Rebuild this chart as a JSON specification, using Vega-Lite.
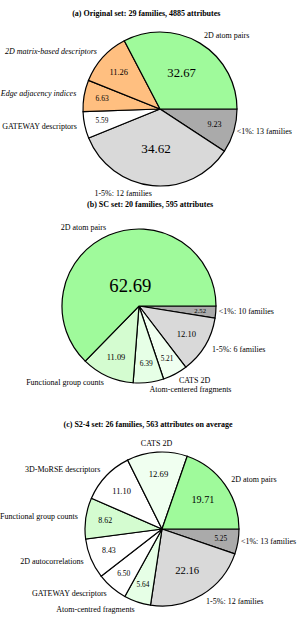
{
  "$schema": "https://vega.github.io/schema/vega-lite/v6.json",
  "padding": {"left": 0, "top": 9, "right": 0, "bottom": 0},
  "background": "white",
  "bounds": "flush",
  "spacing": 34,
  "config": {
    "view": {"stroke": null},
    "font": "Liberation Serif",
    "title": {"font": "Liberation Serif", "fontSize": 8, "fontWeight": "bold", "color": "black", "frame": "bounds", "anchor": "middle"},
    "text": {"font": "Liberation Serif", "fill": "black", "color": "black"}
  },
  "resolve": {"scale": {"theta": "independent"}},
  "data": {"values": [
    {"panel": "a", "i": 0, "label": "<1%: 13 families", "value": 9.23, "kind": "under1"},
    {"panel": "a", "i": 1, "label": "1-5%: 12 families", "value": 34.62, "kind": "1to5"},
    {"panel": "a", "i": 2, "label": "GATEWAY descriptors", "value": 5.59, "kind": "other"},
    {"panel": "a", "i": 3, "label": "Edge adjacency indices", "value": 6.63, "kind": "matrix"},
    {"panel": "a", "i": 4, "label": "2D matrix-based descriptors", "value": 11.26, "kind": "matrix"},
    {"panel": "a", "i": 5, "label": "2D atom pairs", "value": 32.67, "kind": "atompairs"},
    {"panel": "b", "i": 0, "label": "<1%: 10 families", "value": 2.52, "kind": "under1"},
    {"panel": "b", "i": 1, "label": "1-5%: 6 families", "value": 12.10, "kind": "1to5"},
    {"panel": "b", "i": 2, "label": "CATS 2D", "value": 5.21, "kind": "cats"},
    {"panel": "b", "i": 3, "label": "Atom-centered fragments", "value": 6.39, "kind": "fragments"},
    {"panel": "b", "i": 4, "label": "Functional group counts", "value": 11.09, "kind": "functional"},
    {"panel": "b", "i": 5, "label": "2D atom pairs", "value": 62.69, "kind": "atompairs"},
    {"panel": "c", "i": 0, "label": "<1%: 13 families", "value": 5.25, "kind": "under1"},
    {"panel": "c", "i": 1, "label": "1-5%: 12 families", "value": 22.16, "kind": "1to5"},
    {"panel": "c", "i": 2, "label": "Atom-centred fragments", "value": 5.64, "kind": "fragments"},
    {"panel": "c", "i": 3, "label": "GATEWAY descriptors", "value": 6.50, "kind": "other"},
    {"panel": "c", "i": 4, "label": "2D autocorrelations", "value": 8.43, "kind": "other"},
    {"panel": "c", "i": 5, "label": "Functional group counts", "value": 8.62, "kind": "functional"},
    {"panel": "c", "i": 6, "label": "3D-MoRSE descriptors", "value": 11.10, "kind": "other"},
    {"panel": "c", "i": 7, "label": "CATS 2D", "value": 12.69, "kind": "cats"},
    {"panel": "c", "i": 8, "label": "2D atom pairs", "value": 19.71, "kind": "atompairs"}
  ]},
  "vconcat": [
    {
      "title": {"text": "(a) Original set: 29 families, 4885 attributes", "offset": 12},
      "width": 260, "height": 140,
      "transform": [{"filter": "datum.panel == 'a'"}],
      "encoding": {
        "theta": {"field": "value", "type": "quantitative", "stack": true, "scale": {"range": [1.5707963, 7.8539816]}},
        "order": {"field": "i", "type": "quantitative"}
      },
      "layer": [
        {"mark": {"type": "arc", "outerRadius": 77, "stroke": "black", "strokeWidth": 1.2},
         "encoding": {"color": {"field": "kind", "type": "nominal", "legend": null,
           "scale": {"domain": ["atompairs", "matrix", "1to5", "under1", "functional", "fragments", "cats", "other"],
                     "range": ["#9ffa9b", "#ffbf80", "#d9d9d9", "#aaaaaa", "#d4fcd0", "#e6ffe6", "#f0fff0", "#ffffff"]}}}},
        {"mark": {"type": "text", "baseline": "middle", "align": "center", "fill": "black"},
         "encoding": {
           "text": {"field": "value", "type": "quantitative", "format": ".2f"},
           "radius": {"field": "value", "type": "quantitative", "scale": {"type": "linear", "zero": false, "domain": [0, 63], "range": [63, 22]}},
           "size": {"field": "value", "type": "quantitative", "legend": null, "scale": {"type": "linear", "zero": false, "domain": [0, 63], "range": [6.2, 18.8]}}
         }},
        {"mark": {"type": "text", "baseline": "middle", "fontSize": 8, "fill": "black",
                  "radius": {"expr": "indexof(datum.label, '<1%') == 0 ? 80 : 85"},
                  "align": {"expr": "cos(PI*(datum.value_start+datum.value_end)/100) > 0.08 ? 'left' : (cos(PI*(datum.value_start+datum.value_end)/100) < -0.08 ? 'right' : 'center')"},
                  "fontStyle": {"expr": "indexof(['2D matrix-based descriptors','Edge adjacency indices'], datum.label) >= 0 ? 'italic' : 'normal'"}},
         "encoding": {"text": {"field": "label", "type": "nominal"}}}
      ]
    },
    {
      "title": {"text": "(b) SC set: 20 families, 595 attributes", "offset": 4},
      "width": 218, "height": 186,
      "transform": [{"filter": "datum.panel == 'b'"}],
      "encoding": {
        "theta": {"field": "value", "type": "quantitative", "stack": true, "scale": {"range": [1.5707963, 7.8539816]}},
        "order": {"field": "i", "type": "quantitative"}
      },
      "layer": [
        {"mark": {"type": "arc", "outerRadius": 77, "stroke": "black", "strokeWidth": 1.2},
         "encoding": {"color": {"field": "kind", "type": "nominal", "legend": null}}},
        {"mark": {"type": "text", "baseline": "middle", "align": "center", "fill": "black"},
         "encoding": {
           "text": {"field": "value", "type": "quantitative", "format": ".2f"},
           "radius": {"field": "value", "type": "quantitative", "scale": {"type": "linear", "zero": false, "domain": [0, 63], "range": [63, 22]}},
           "size": {"field": "value", "type": "quantitative", "legend": null, "scale": {"type": "linear", "zero": false, "domain": [0, 63], "range": [6.2, 18.8]}}
         }},
        {"mark": {"type": "text", "baseline": "middle", "fontSize": 8, "fill": "black",
                  "radius": {"expr": "indexof(datum.label, '<1%') == 0 ? 80 : 85"},
                  "align": {"expr": "cos(PI*(datum.value_start+datum.value_end)/100) > 0.08 ? 'left' : (cos(PI*(datum.value_start+datum.value_end)/100) < -0.08 ? 'right' : 'center')"}},
         "encoding": {"text": {"field": "label", "type": "nominal"}}}
      ]
    },
    {
      "title": {"text": "(c) S2-4 set: 26 families, 563 attributes on average", "offset": 4},
      "width": 264, "height": 192,
      "transform": [{"filter": "datum.panel == 'c'"}],
      "encoding": {
        "theta": {"field": "value", "type": "quantitative", "stack": true, "scale": {"range": [1.5707963, 7.8539816]}},
        "order": {"field": "i", "type": "quantitative"}
      },
      "layer": [
        {"mark": {"type": "arc", "outerRadius": 77, "stroke": "black", "strokeWidth": 1.2},
         "encoding": {"color": {"field": "kind", "type": "nominal", "legend": null}}},
        {"mark": {"type": "text", "baseline": "middle", "align": "center", "fill": "black"},
         "encoding": {
           "text": {"field": "value", "type": "quantitative", "format": ".2f"},
           "radius": {"field": "value", "type": "quantitative", "scale": {"type": "linear", "zero": false, "domain": [0, 63], "range": [63, 22]}},
           "size": {"field": "value", "type": "quantitative", "legend": null, "scale": {"type": "linear", "zero": false, "domain": [0, 63], "range": [6.2, 18.8]}}
         }},
        {"mark": {"type": "text", "baseline": "middle", "fontSize": 8, "fill": "black",
                  "radius": {"expr": "indexof(datum.label, '<1%') == 0 ? 80 : 85"},
                  "align": {"expr": "cos(PI*(datum.value_start+datum.value_end)/100.1) > 0.08 ? 'left' : (cos(PI*(datum.value_start+datum.value_end)/100.1) < -0.08 ? 'right' : 'center')"}},
         "encoding": {"text": {"field": "label", "type": "nominal"}}}
      ]
    }
  ]
}
